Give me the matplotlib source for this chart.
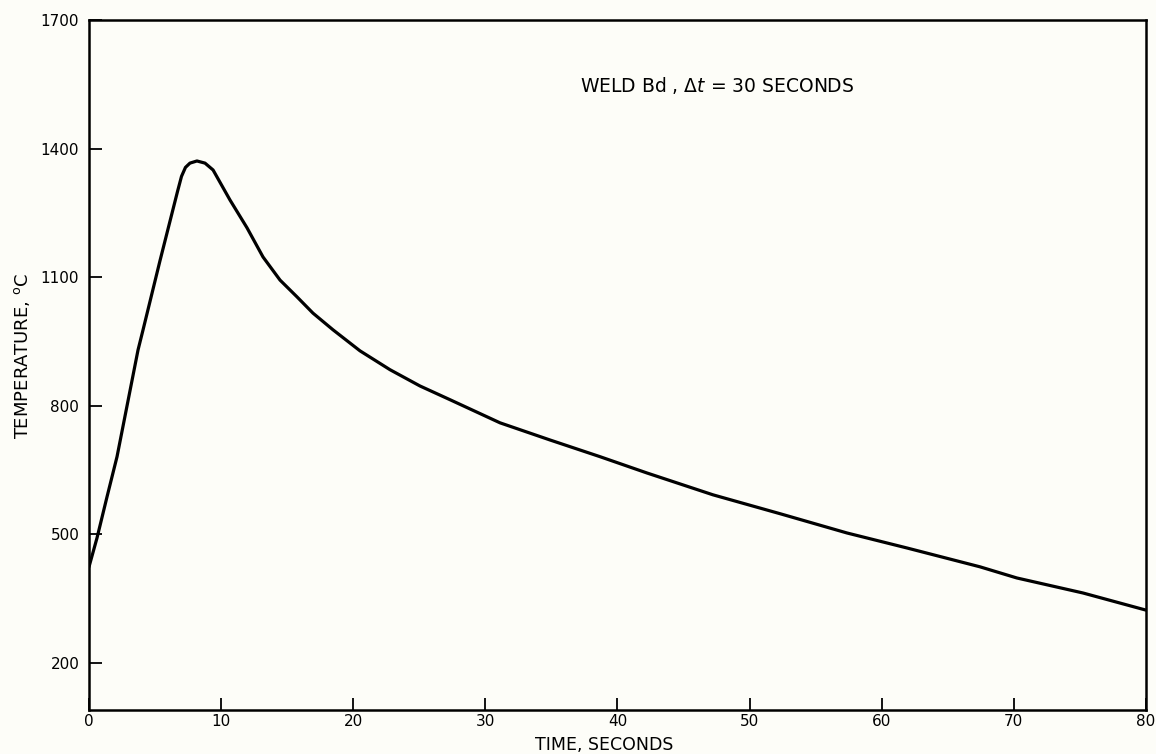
import numpy as np
import matplotlib.pyplot as plt

# Weld Bd thermal cycle
time_s = [0.0, 0.61, 1.36, 2.12, 3.71, 4.09, 5.37, 6.7, 7.0, 7.3, 7.64, 8.17, 8.78,
          9.39, 10.67, 11.96, 13.17, 14.46, 15.74, 16.95, 18.47, 20.51, 22.78,
          25.05, 27.32, 31.11, 34.89, 38.68, 42.23, 47.23, 52.30, 57.37, 61.91,
          67.44, 70.23, 75.23, 80.0]
temp_c = [424, 492, 587, 681, 930, 977, 1138, 1300, 1335, 1356, 1366, 1371, 1366,
          1350, 1280, 1215, 1147, 1093, 1054, 1016, 977, 928, 884,
          846, 814, 760, 720, 681, 643, 592, 548, 503, 468,
          424, 398, 363, 323]

xticks = [0, 10, 20, 30, 40, 50, 60, 70, 80]
yticks = [200, 500, 800, 1100, 1400, 1700]

bg = '#fdfdf8'
fig = plt.figure(figsize=(11.56, 7.54), dpi=100, facecolor=bg)
ax = fig.add_axes([0.077, 0.0584, 0.9143, 0.9151], facecolor=bg)

ax.plot(time_s, temp_c, color='black', linewidth=2.3,
        solid_capstyle='round', solid_joinstyle='round')

ax.set_xlim(0, 80)
ax.set_ylim(90, 1700)
ax.set_xticks(xticks)
ax.set_yticks(yticks)
ax.tick_params(direction='in', length=9, width=1.3, labelsize=11, color='black')
ax.tick_params(axis='x', pad=3)
ax.tick_params(axis='y', pad=7)
for s in ax.spines.values():
    s.set_linewidth(1.8)

fig.text(0.523, 0.0, 'TIME, SECONDS', ha='center', va='bottom', fontsize=12.5)
fig.text(0.019, 0.528, 'TEMPERATURE, $^{\\mathrm{o}}$C', rotation=90,
         ha='center', va='center', fontsize=13)

ax.text(0.465, 0.905, 'WELD Bd , $\\mathit{\\Delta t}$ = 30 SECONDS',
        transform=ax.transAxes, ha='left', va='center', fontsize=13.5)

plt.savefig('out.png', dpi=100, facecolor=bg)
